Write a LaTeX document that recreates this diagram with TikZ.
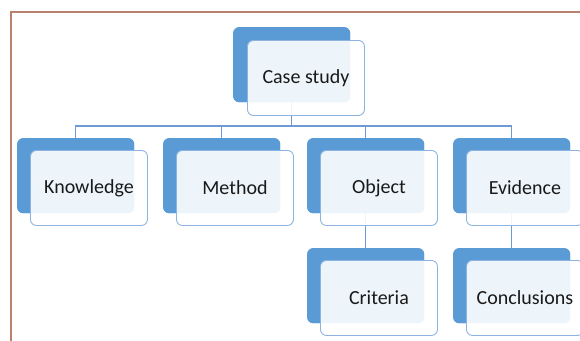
\documentclass[tikz,border=0pt]{standalone}
\usepackage{fontspec}
\setmainfont{Carlito}
\definecolor{backblue}{HTML}{5B9BD5}
\definecolor{frontline}{HTML}{8DB3E0}
\definecolor{conn}{HTML}{6B9BD2}
\definecolor{frame}{HTML}{B8826F}
\tikzset{
  backbox/.style={rectangle, rounded corners=6pt, fill=backblue, minimum width=117pt, minimum height=75pt, anchor=north west, inner sep=0pt},
  frontbox/.style={rectangle, rounded corners=6pt, fill=white, fill opacity=0.9, text opacity=1, draw=frontline, line width=0.9pt, minimum width=117pt, minimum height=75pt, anchor=north west, inner sep=0pt, font=\fontsize{20}{22}\selectfont, text=black!90},
  connector/.style={draw=conn, line width=1.1pt}
}
\begin{document}
\begin{tikzpicture}[x=1pt,y=-1pt]
\useasboundingbox (0,0) rectangle (580,340);
\draw[frame, line width=2pt] (11,342) -- (11,12) -- (582,12);
% back boxes first (for connector endpoints)
\node[backbox] (caseB) at (233,27) {};
\node[backbox] (knowB) at (17,138) {};
\node[backbox] (methB) at (163,138) {};
\node[backbox] (objB) at (307,138) {};
\node[backbox] (eviB) at (453,138) {};
\node[backbox] (critB) at (307,248) {};
\node[backbox] (concB) at (453,248) {};
\coordinate (bus) at (0,126);
% connectors
\draw[connector] (caseB.south) -- (caseB.south |- bus);
\draw[connector] (knowB.north) -- (knowB.north |- bus) -- (eviB.north |- bus) -- (eviB.north);
\draw[connector] (methB.north) -- (methB.north |- bus);
\draw[connector] (objB.north) -- (objB.north |- bus);
\draw[connector] (objB.south) -- (critB.north);
\draw[connector] (eviB.south) -- (concB.north);
% redraw back boxes on top of connectors
\node[backbox] at (233,27) {};
\node[backbox] at (17,138) {};
\node[backbox] at (163,138) {};
\node[backbox] at (307,138) {};
\node[backbox] at (453,138) {};
\node[backbox] at (307,248) {};
\node[backbox] at (453,248) {};
% front boxes
\node[frontbox] (case) at (247,40) {Case study};
\node[frontbox] (know) at (30,150) {Knowledge};
\node[frontbox] (meth) at (176,150) {Method};
\node[frontbox] (obj) at (320,150) {Object};
\node[frontbox] (evi) at (466,150) {Evidence};
\node[frontbox] (crit) at (320,260) {Criteria};
\node[frontbox] (conc) at (466,260) {Conclusions};
\end{tikzpicture}
\end{document}
